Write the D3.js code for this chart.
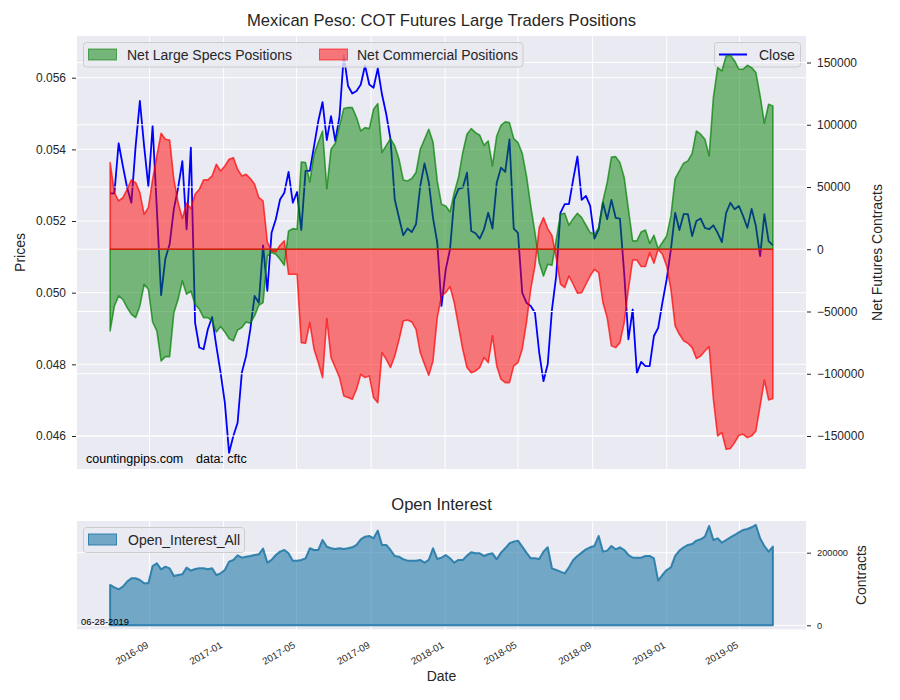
<!DOCTYPE html>
<html>
<head>
<meta charset="utf-8">
<script src="https://cdn.jsdelivr.net/npm/d3@7"></script>
<style>
  body { margin: 0; background: #fff; }
  svg { font-family: "Liberation Sans", Arial, sans-serif; }
  .tick text { fill: #262626; }
  .tick line { stroke: #262626; }
</style>
</head>
<body>
<svg id="chart" width="900" height="700"></svg>
<script>
// weekly COT report dates start here
const startDate = "2016-06-28";
const reportLabel = "06-28-2019";

const closePrices = [
  0.05277, 0.05277, 0.05417, 0.05353, 0.05293, 0.05251, 0.05409, 0.05535, 0.05409, 0.05296,
  0.05465, 0.05233, 0.04993, 0.05095, 0.05135, 0.05233, 0.05293, 0.05367, 0.05177, 0.05405,
  0.04916, 0.04847, 0.04842, 0.04898, 0.04932, 0.04851, 0.04777, 0.04693, 0.04553, 0.04600,
  0.04637, 0.04777, 0.04823, 0.04898, 0.04991, 0.04972, 0.05132, 0.05005, 0.05167, 0.05205,
  0.05260, 0.05279, 0.05337, 0.05251, 0.05281, 0.05175, 0.05340, 0.05340, 0.05409, 0.05479,
  0.05532, 0.05426, 0.05493, 0.05423, 0.05493, 0.05663, 0.05577, 0.05556, 0.05563, 0.05581,
  0.05634, 0.05581, 0.05572, 0.05626, 0.05553, 0.05498, 0.05428, 0.05260, 0.05209, 0.05160,
  0.05179, 0.05169, 0.05191, 0.05298, 0.05361, 0.05309, 0.05209, 0.05140, 0.04963, 0.05065,
  0.05121, 0.05260, 0.05290, 0.05293, 0.05335, 0.05172, 0.05166, 0.05151, 0.05177, 0.05223,
  0.05179, 0.05307, 0.05349, 0.05337, 0.05428, 0.05179, 0.05167, 0.05000, 0.04972, 0.04963,
  0.04944, 0.04833, 0.04753, 0.04800, 0.04953, 0.05047, 0.05223, 0.05247, 0.05247, 0.05316,
  0.05380, 0.05259, 0.05270, 0.05242, 0.05151, 0.05177, 0.05251, 0.05205, 0.05259, 0.05209,
  0.05207, 0.05055, 0.04870, 0.04953, 0.04775, 0.04807, 0.04795, 0.04795, 0.04879, 0.04902,
  0.04972, 0.05037, 0.05121, 0.05223, 0.05175, 0.05219, 0.05219, 0.05158, 0.05200, 0.05207,
  0.05181, 0.05177, 0.05188, 0.05167, 0.05141, 0.05223, 0.05251, 0.05233, 0.05242, 0.05214,
  0.05181, 0.05234, 0.05186, 0.05102, 0.05219, 0.05144, 0.05132
];

// net positions, contracts
const netSpecs = [
  -65600, -45500, -37500, -40200, -46900, -52200, -54900, -45500, -28100, -32100,
  -58400, -65600, -89700, -86200, -86200, -50900, -40200, -25400, -36100, -33500,
  -44200, -48200, -54900, -54900, -57600, -66400, -62100, -66400, -71800, -73600,
  -64800, -62900, -58400, -59400, -53500, -45000, -42800, -5400, -2700, -4000,
  -8000, -12900, 14700, 16600, 16100, 70100, 69600, 54100, 76300, 85700,
  95000, 48700, 80300, 85100, 99100, 113000, 113800, 113800, 105800, 95000,
  97700, 96900, 112400, 117000, 77600, 83500, 88900, 83000, 72300, 55700,
  54900, 56800, 61600, 80300, 88400, 96400, 86200, 54900, 36100, 34800,
  30000, 45500, 57600, 77600, 92400, 96900, 93700, 91600, 83500, 87000,
  66900, 91000, 99600, 102300, 101700, 88900, 85700, 77100, 58900, 34800,
  13400, -10700, -21400, -12000, -12900, 7500, 28100, 28900, 19300, 24600,
  28900, 25400, 19300, 13400, 12000, 17400, 38800, 53500, 74000, 74400,
  69600, 57600, 32100, 6700, 6700, 13900, 15500, 4800, 11200, 500,
  5400, 10700, 26800, 56800, 62900, 69100, 71000, 77100, 95000, 92400,
  88400, 75000, 121800, 145900, 143200, 155300, 155800, 151300, 144600, 144600,
  147800, 145900, 141900, 123200, 101200, 116500, 115100
];

const netCommercial = [
  69600, 45500, 38800, 41500, 48200, 55700, 53500, 45500, 28100, 33500,
  56200, 75000, 93200, 88400, 87800, 56200, 37500, 24600, 36900, 32700,
  44200, 48200, 55700, 55700, 58900, 68300, 62900, 66900, 72300, 73600,
  64300, 58900, 60200, 56800, 52200, 41500, 38800, 5900, -1300, -2100,
  3200, 6700, -20100, -20100, -20100, -75000, -75500, -58900, -80300, -91000,
  -103100, -55700, -87000, -95000, -103100, -117800, -119100, -120500, -112400, -100400,
  -103100, -101700, -119100, -123200, -83000, -88400, -95000, -85700, -72800, -57600,
  -56800, -58400, -64300, -83000, -92400, -101200, -89700, -54900, -37500, -34800,
  -30000, -42800, -61600, -80300, -95000, -99100, -97700, -95000, -87000, -91000,
  -69600, -93700, -104400, -107100, -107100, -93700, -91000, -80300, -58900, -32100,
  -13400, 17400, 25400, 16600, 11200, -6700, -28100, -30800, -21400, -28100,
  -35300, -34800, -28100, -21400, -16100, -18700, -42800, -54900, -77600, -79000,
  -75000, -58900, -32100, -8600, -8600, -13900, -13900, -2700, -11200, 0,
  -4000, -13400, -32100, -61600, -68300, -73600, -75500, -79000, -87800, -85700,
  -81700, -78200, -120500, -149900, -147300, -160600, -160100, -155300, -149400, -148600,
  -151300, -149900, -145900, -125800, -105000, -121000, -119900
];

const openInterest = [
  111100, 104700, 99200, 106500, 120300, 129500, 129500, 124900, 115700, 115700,
  163400, 170800, 154200, 161600, 157000, 135900, 138600, 140500, 158800, 150600,
  155200, 157000, 157000, 154200, 157000, 138600, 143200, 152400, 175400, 180000,
  192800, 186400, 189100, 191000, 193700, 195600, 211200, 172600, 180000, 193700,
  202900, 207500, 198300, 178100, 178100, 180000, 184500, 212100, 207500, 207500,
  235000, 216700, 212100, 210300, 212100, 210300, 212100, 214900, 221300, 236900,
  244200, 246100, 239600, 260800, 221300, 221300, 207500, 191000, 189100, 181800,
  178100, 178100, 178100, 180000, 172600, 180000, 212100, 182700, 186400, 193700,
  184500, 172600, 180000, 180000, 191900, 201100, 198300, 198300, 191000, 195600,
  198300, 181800, 200200, 212100, 225900, 230500, 233200, 216700, 200200, 184500,
  184500, 182700, 202900, 214900, 157000, 152400, 147800, 143200, 159700, 180000,
  191000, 200200, 209300, 214900, 218500, 246100, 202900, 205700, 218500, 209300,
  214900, 207500, 193700, 186400, 186400, 186400, 191000, 191000, 184500, 123000,
  138600, 152400, 159700, 191000, 205700, 214900, 221300, 224000, 233200, 236900,
  244200, 273600, 235000, 239600, 227700, 235000, 242400, 248800, 256200, 262600,
  265400, 270000, 276400, 239600, 218500, 202900, 216700
];

const priceTicks = [0.046, 0.048, 0.050, 0.052, 0.054, 0.056];
const netTicks = [-150000, -100000, -50000, 0, 50000, 100000, 150000];
const oiTicks = [0, 200000];

const start = d3.utcParse("%Y-%m-%d")(startDate);
const dates = closePrices.map((_, i) => d3.utcDay.offset(start, 7 * i));

const svg = d3.select("#chart");
const bg = "#eaeaf2";
const oiColor = "#237aa9";

// panel boxes
const upper = { x0: 77, x1: 806, y0: 36, y1: 469 };
const lower = { x0: 77, x1: 806, y0: 521, y1: 629.3 };

const t0 = dates[0], t1 = dates[dates.length - 1];
const pad = (t1 - t0) * 0.05;
const x = d3.scaleUtc()
  .domain([new Date(+t0 - pad), new Date(+t1 + pad)])
  .range([upper.x0, upper.x1]);

const yPrice = d3.scaleLinear().domain([0.045079, 0.057164]).range([upper.y1, upper.y0]);
const yNet = d3.scaleLinear().domain([-176500, 171300]).range([upper.y1, upper.y0]);
const yOI = d3.scaleLinear().domain([-11000, 287300]).range([lower.y1, lower.y0]);

const monthTicks = x.ticks(d3.utcMonth.every(4));

const rows = dates.map((d, i) => ({
  date: d, close: closePrices[i], specs: netSpecs[i], comm: netCommercial[i], oi: openInterest[i]
}));

// ---------- upper panel ----------
svg.append("rect")
  .attr("x", upper.x0).attr("y", upper.y0)
  .attr("width", upper.x1 - upper.x0).attr("height", upper.y1 - upper.y0)
  .attr("fill", bg);

const gridTop = svg.append("g").attr("stroke", "#fff").attr("stroke-width", 1);
gridTop.selectAll(".vx").data(monthTicks).enter().append("line")
  .attr("x1", d => x(d)).attr("x2", d => x(d))
  .attr("y1", upper.y0).attr("y2", upper.y1);
gridTop.selectAll(".hp").data(priceTicks).enter().append("line")
  .attr("x1", upper.x0).attr("x2", upper.x1)
  .attr("y1", d => yPrice(d)).attr("y2", d => yPrice(d));

svg.append("path")
  .datum(rows)
  .attr("fill", "none")
  .attr("stroke", "#0000ff")
  .attr("stroke-width", 1.8)
  .attr("stroke-linejoin", "round")
  .attr("d", d3.line().x(d => x(d.date)).y(d => yPrice(d.close)));

// Close legend (belongs to price axis, under the fills)
const legC = svg.append("g");
legC.append("rect")
  .attr("x", 714.5).attr("y", 42.5).attr("width", 86).attr("height", 24.5).attr("rx", 3)
  .attr("fill", "#eaeaf2").attr("fill-opacity", 0.8).attr("stroke", "#cccccc");
legC.append("line")
  .attr("x1", 719).attr("x2", 747).attr("y1", 54.5).attr("y2", 54.5)
  .attr("stroke", "#0000ff").attr("stroke-width", 2);
legC.append("text")
  .attr("x", 759).attr("y", 59.5).attr("font-size", 14).attr("fill", "#262626")
  .text("Close");

// grid of the contracts axis sits above the price line
svg.append("g").attr("stroke", "#fff").attr("stroke-width", 1)
  .selectAll("line").data(netTicks).enter().append("line")
  .attr("x1", upper.x0).attr("x2", upper.x1)
  .attr("y1", d => yNet(d)).attr("y2", d => yNet(d));

const areaNet = key => d3.area()
  .x(d => x(d.date))
  .y0(yNet(0))
  .y1(d => yNet(d[key]));

svg.append("path")
  .datum(rows)
  .attr("fill", "green").attr("fill-opacity", 0.5)
  .attr("stroke", "green").attr("stroke-opacity", 0.7).attr("stroke-width", 1.6)
  .attr("stroke-linejoin", "round")
  .attr("d", areaNet("specs"));

svg.append("path")
  .datum(rows)
  .attr("fill", "red").attr("fill-opacity", 0.5)
  .attr("stroke", "red").attr("stroke-opacity", 0.7).attr("stroke-width", 1.6)
  .attr("stroke-linejoin", "round")
  .attr("d", areaNet("comm"));

// legend for the net positions
const legN = svg.append("g");
legN.append("rect")
  .attr("x", 83.5).attr("y", 42.5).attr("width", 439.5).attr("height", 24.5).attr("rx", 3)
  .attr("fill", "#eaeaf2").attr("fill-opacity", 0.8).attr("stroke", "#cccccc");
[
  { label: "Net Large Specs Positions", color: "green", px: 88.5, tx: 127 },
  { label: "Net Commercial Positions", color: "red", px: 319.5, tx: 357 }
].forEach(item => {
  legN.append("rect")
    .attr("x", item.px).attr("y", 49).attr("width", 28).attr("height", 11)
    .attr("fill", item.color).attr("fill-opacity", 0.5)
    .attr("stroke", item.color).attr("stroke-opacity", 0.6);
  legN.append("text")
    .attr("x", item.tx).attr("y", 59.5).attr("font-size", 14).attr("fill", "#262626")
    .text(item.label);
});

// axes
const axL = svg.append("g")
  .attr("transform", `translate(${upper.x0 - 1},0)`)
  .call(d3.axisLeft(yPrice).tickValues(priceTicks).tickFormat(d3.format(".3f")).tickSize(4).tickPadding(6));
const axR = svg.append("g")
  .attr("transform", `translate(${upper.x1 + 1},0)`)
  .call(d3.axisRight(yNet).tickValues(netTicks).tickFormat(d3.format("d")).tickSize(4).tickPadding(6));
[axL, axR].forEach(a => {
  a.select(".domain").remove();
  a.selectAll("text").attr("font-size", 12).attr("font-family", null);
});

svg.append("text")
  .attr("x", 86).attr("y", 463).attr("font-size", 12.5).attr("fill", "#000")
  .text("countingpips.com");
svg.append("text")
  .attr("x", 196).attr("y", 463).attr("font-size", 12.5).attr("fill", "#000")
  .text("data: cftc");

svg.append("text")
  .attr("x", (upper.x0 + upper.x1) / 2).attr("y", 26)
  .attr("text-anchor", "middle").attr("font-size", 16.6).attr("fill", "#262626")
  .text("Mexican Peso: COT Futures Large Traders Positions");

svg.append("text")
  .attr("transform", `translate(25,${(upper.y0 + upper.y1) / 2}) rotate(-90)`)
  .attr("text-anchor", "middle").attr("font-size", 14).attr("fill", "#262626")
  .text("Prices");

svg.append("text")
  .attr("transform", `translate(881.5,${(upper.y0 + upper.y1) / 2}) rotate(-90)`)
  .attr("text-anchor", "middle").attr("font-size", 14).attr("fill", "#262626")
  .text("Net Futures Contracts");

// ---------- lower panel ----------
svg.append("rect")
  .attr("x", lower.x0).attr("y", lower.y0)
  .attr("width", lower.x1 - lower.x0).attr("height", lower.y1 - lower.y0)
  .attr("fill", bg);

const gridBot = svg.append("g").attr("stroke", "#fff").attr("stroke-width", 1);
gridBot.selectAll(".vx").data(monthTicks).enter().append("line")
  .attr("x1", d => x(d)).attr("x2", d => x(d))
  .attr("y1", lower.y0).attr("y2", lower.y1);
gridBot.selectAll(".ho").data(oiTicks).enter().append("line")
  .attr("x1", lower.x0).attr("x2", lower.x1)
  .attr("y1", d => yOI(d)).attr("y2", d => yOI(d));

svg.append("path")
  .datum(rows)
  .attr("fill", oiColor).attr("fill-opacity", 0.6)
  .attr("stroke", oiColor).attr("stroke-opacity", 0.9).attr("stroke-width", 2)
  .attr("stroke-linejoin", "round")
  .attr("d", d3.area().x(d => x(d.date)).y0(yOI(0)).y1(d => yOI(d.oi)));

const legO = svg.append("g");
legO.append("rect")
  .attr("x", 83.5).attr("y", 527.5).attr("width", 161).attr("height", 25).attr("rx", 3)
  .attr("fill", "#eaeaf2").attr("fill-opacity", 0.8).attr("stroke", "#cccccc");
legO.append("rect")
  .attr("x", 88.5).attr("y", 534).attr("width", 28).attr("height", 11)
  .attr("fill", oiColor).attr("fill-opacity", 0.6)
  .attr("stroke", oiColor).attr("stroke-opacity", 0.9);
legO.append("text")
  .attr("x", 128).attr("y", 545).attr("font-size", 14).attr("fill", "#262626")
  .text("Open_Interest_All");

svg.append("text")
  .attr("x", 81).attr("y", 624.5).attr("font-size", 9.4).attr("fill", "#000")
  .text(reportLabel);

const axO = svg.append("g")
  .attr("transform", `translate(${lower.x1 + 1},0)`)
  .call(d3.axisRight(yOI).tickValues(oiTicks).tickFormat(d3.format("d")).tickSize(4).tickPadding(6));
axO.select(".domain").remove();
axO.selectAll("text").attr("font-size", 9.3).attr("font-family", null);

// rotated date labels
svg.append("g").selectAll("text").data(monthTicks).enter().append("text")
  .attr("transform", d => `translate(${x(d) - 4},641) rotate(-30)`)
  .attr("text-anchor", "end").attr("dy", "0.72em")
  .attr("font-size", 9.8).attr("fill", "#262626")
  .text(d => d3.utcFormat("%Y-%m")(d));

svg.append("text")
  .attr("x", (lower.x0 + lower.x1) / 2).attr("y", 510)
  .attr("text-anchor", "middle").attr("font-size", 16.6).attr("fill", "#262626")
  .text("Open Interest");

svg.append("text")
  .attr("x", (lower.x0 + lower.x1) / 2).attr("y", 681)
  .attr("text-anchor", "middle").attr("font-size", 14).attr("fill", "#262626")
  .text("Date");

svg.append("text")
  .attr("transform", `translate(865.5,${(lower.y0 + lower.y1) / 2}) rotate(-90)`)
  .attr("text-anchor", "middle").attr("font-size", 14).attr("fill", "#262626")
  .text("Contracts");
</script>
</body>
</html>
